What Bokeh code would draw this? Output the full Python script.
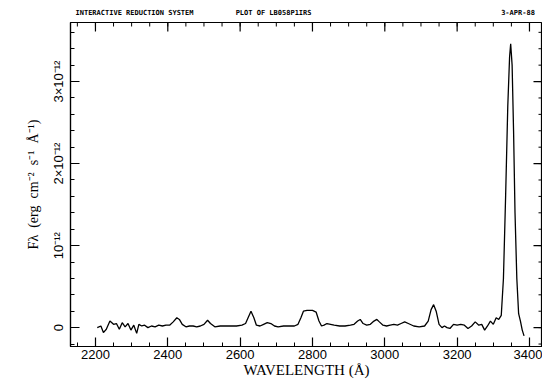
import math
from bokeh.plotting import figure
from bokeh.models import FixedTicker, Range1d
from bokeh.embed import file_html
from bokeh.resources import INLINE

# wavelength (Angstrom)
wavelength = [2205, 2215, 2222, 2230, 2240, 2250, 2258, 2266, 2274, 2282, 2290, 2298, 2306, 2314,
              2320, 2328, 2336, 2345, 2355, 2365, 2375, 2385, 2395, 2405, 2415, 2425, 2432, 2440,
              2450, 2460, 2470, 2480, 2490, 2500, 2510, 2518, 2530, 2545, 2560, 2575, 2590, 2605,
              2615, 2622, 2630, 2638, 2645, 2655, 2665, 2675, 2685, 2695, 2705, 2720, 2735, 2750,
              2760, 2768, 2775, 2785, 2800, 2810, 2818, 2825, 2832, 2840, 2850, 2860, 2875, 2890,
              2905, 2915, 2925, 2932, 2940, 2950, 2960, 2970, 2978, 2985, 2995, 3005, 3015, 3025,
              3035, 3045, 3055, 3065, 3080, 3095, 3110, 3120, 3128, 3135, 3142, 3150, 3158, 3165,
              3172, 3180, 3190, 3200, 3210, 3220, 3230, 3240, 3250, 3260, 3268, 3276, 3284, 3292,
              3300, 3308, 3315, 3322, 3328, 3334, 3340, 3345, 3348, 3352, 3356, 3360, 3365, 3370,
              3375, 3380, 3385]
# flux in units of 1e-12 erg cm^-2 s^-1 A^-1
flux = [0.0, 0.02, -0.06, -0.02, 0.08, 0.04, 0.05, -0.02, 0.06, 0.01, 0.05, -0.03, 0.03, -0.07,
        0.04, 0.02, 0.03, 0.0, 0.02, 0.01, 0.03, 0.02, 0.03, 0.03, 0.07, 0.12, 0.1, 0.04,
        0.01, 0.02, 0.02, 0.01, 0.02, 0.04, 0.09, 0.05, 0.01, 0.02, 0.02, 0.02, 0.02, 0.03,
        0.05, 0.12, 0.2, 0.12, 0.03, 0.02, 0.04, 0.06, 0.05, 0.02, 0.01, 0.02, 0.02, 0.02,
        0.04, 0.12, 0.2, 0.21, 0.21, 0.19, 0.08, 0.02, 0.03, 0.05, 0.04, 0.03, 0.02, 0.02,
        0.03, 0.04, 0.08, 0.1, 0.05, 0.03, 0.04, 0.08, 0.1, 0.07, 0.03, 0.02, 0.03, 0.04,
        0.03, 0.05, 0.07, 0.05, 0.02, 0.01, 0.02, 0.08, 0.22, 0.28, 0.2, 0.04, 0.0, 0.02,
        0.0, -0.01, 0.04, 0.03, 0.04, 0.03, -0.01, 0.02, 0.07, 0.03, 0.04, -0.03, 0.02, 0.08,
        0.04, 0.12, 0.1, 0.15, 0.6, 1.6, 2.7, 3.3, 3.46, 3.2, 2.4, 1.4, 0.6, 0.17,
        0.08, -0.03, -0.1]

x_ticks = [2200, 2400, 2600, 2800, 3000, 3200, 3400]
x_tick_labels = ["2200", "2400", "2600", "2800", "3000", "3200", "3400"]
y_ticks = [0, 1, 2, 3]
y_tick_labels = ["0", "10\u207b\u00b9\u00b2", "2\u00d710\u207b\u00b9\u00b2", "3\u00d710\u207b\u00b9\u00b2"]

header_left = "INTERACTIVE REDUCTION SYSTEM"
header_mid = "PLOT OF LB058P1IRS"
header_right = "3-APR-88"

X0, X1 = 2131, 3436
Y0, Y1 = -0.23, 3.72

NB = "\u00a0"
header = header_left + NB * 10 + header_mid + NB * 45 + header_right

p = figure(width=542, height=381, output_backend="svg", toolbar_location=None,
           x_range=Range1d(X0, X1), y_range=Range1d(Y0, Y1),
           min_border_left=70, min_border_right=0, min_border_top=0, min_border_bottom=35,
           x_axis_label="WAVELENGTH" + NB + "(\u00c5)",
           y_axis_label="F\u03bb" + NB * 2 + "(erg" + NB * 2 + "cm\u207b\u00b2" + NB * 2
                        + "s\u207b\u00b9" + NB * 2 + "\u00c5\u207b\u00b9)")
p.grid.visible = False
p.outline_line_color = "black"
p.outline_line_width = 1.2
p.background_fill_color = "white"
p.border_fill_color = "white"

p.title.text = header
p.title.align = "left"
p.title.offset = 5
p.title.text_font = "DejaVu Sans Mono"
p.title.text_font_size = "7px"
p.title.text_font_style = "bold"
p.title.text_color = "black"
p.title.standoff = 12

p.line(wavelength, flux, line_color="black", line_width=1.3)

xminor = list(range(2150, 3450, 50))
yminor = [round(-0.2 + 0.2 * i, 2) for i in range(20)]

# inward ticks along the top and right edges of the frame, from the tick lists
p.ray(x=x_ticks, y=[Y1] * len(x_ticks), length=9, length_units="screen",
      angle=-math.pi / 2, line_color="black", line_width=1.2)
p.ray(x=xminor, y=[Y1] * len(xminor), length=4, length_units="screen",
      angle=-math.pi / 2, line_color="black", line_width=1)
p.ray(x=[X1] * len(y_ticks), y=y_ticks, length=9, length_units="screen",
      angle=math.pi, line_color="black", line_width=1.2)
p.ray(x=[X1] * len(yminor), y=yminor, length=4, length_units="screen",
      angle=math.pi, line_color="black", line_width=1)


def style(ax):
    ax.major_tick_in = 9
    ax.major_tick_out = 0
    ax.minor_tick_in = 4
    ax.minor_tick_out = 0
    ax.axis_line_color = "black"
    ax.axis_line_width = 1.2
    ax.major_tick_line_width = 1.2
    ax.major_label_text_font = "Liberation Sans"
    ax.major_label_text_font_size = "13px"
    ax.major_label_text_color = "black"
    ax.axis_label_text_font = "Liberation Serif"
    ax.axis_label_text_font_style = "normal"
    ax.axis_label_text_font_size = "15px"
    ax.axis_label_text_color = "black"


xa = p.xaxis[0]
ya = p.yaxis[0]
xa.ticker = FixedTicker(ticks=x_ticks, minor_ticks=xminor)
xa.major_label_overrides = {t: l for t, l in zip(x_ticks, x_tick_labels)}
ya.ticker = FixedTicker(ticks=y_ticks, minor_ticks=yminor)
ya.major_label_overrides = {t: l for t, l in zip(y_ticks, y_tick_labels)}
ya.major_label_orientation = "vertical"
style(xa)
style(ya)
ya.axis_label_text_font_size = "14px"
xa.axis_label_standoff = 0
xa.major_label_standoff = 3
ya.axis_label_standoff = 8
ya.major_label_standoff = 4

open("out.html", "w").write(file_html(p, INLINE))
